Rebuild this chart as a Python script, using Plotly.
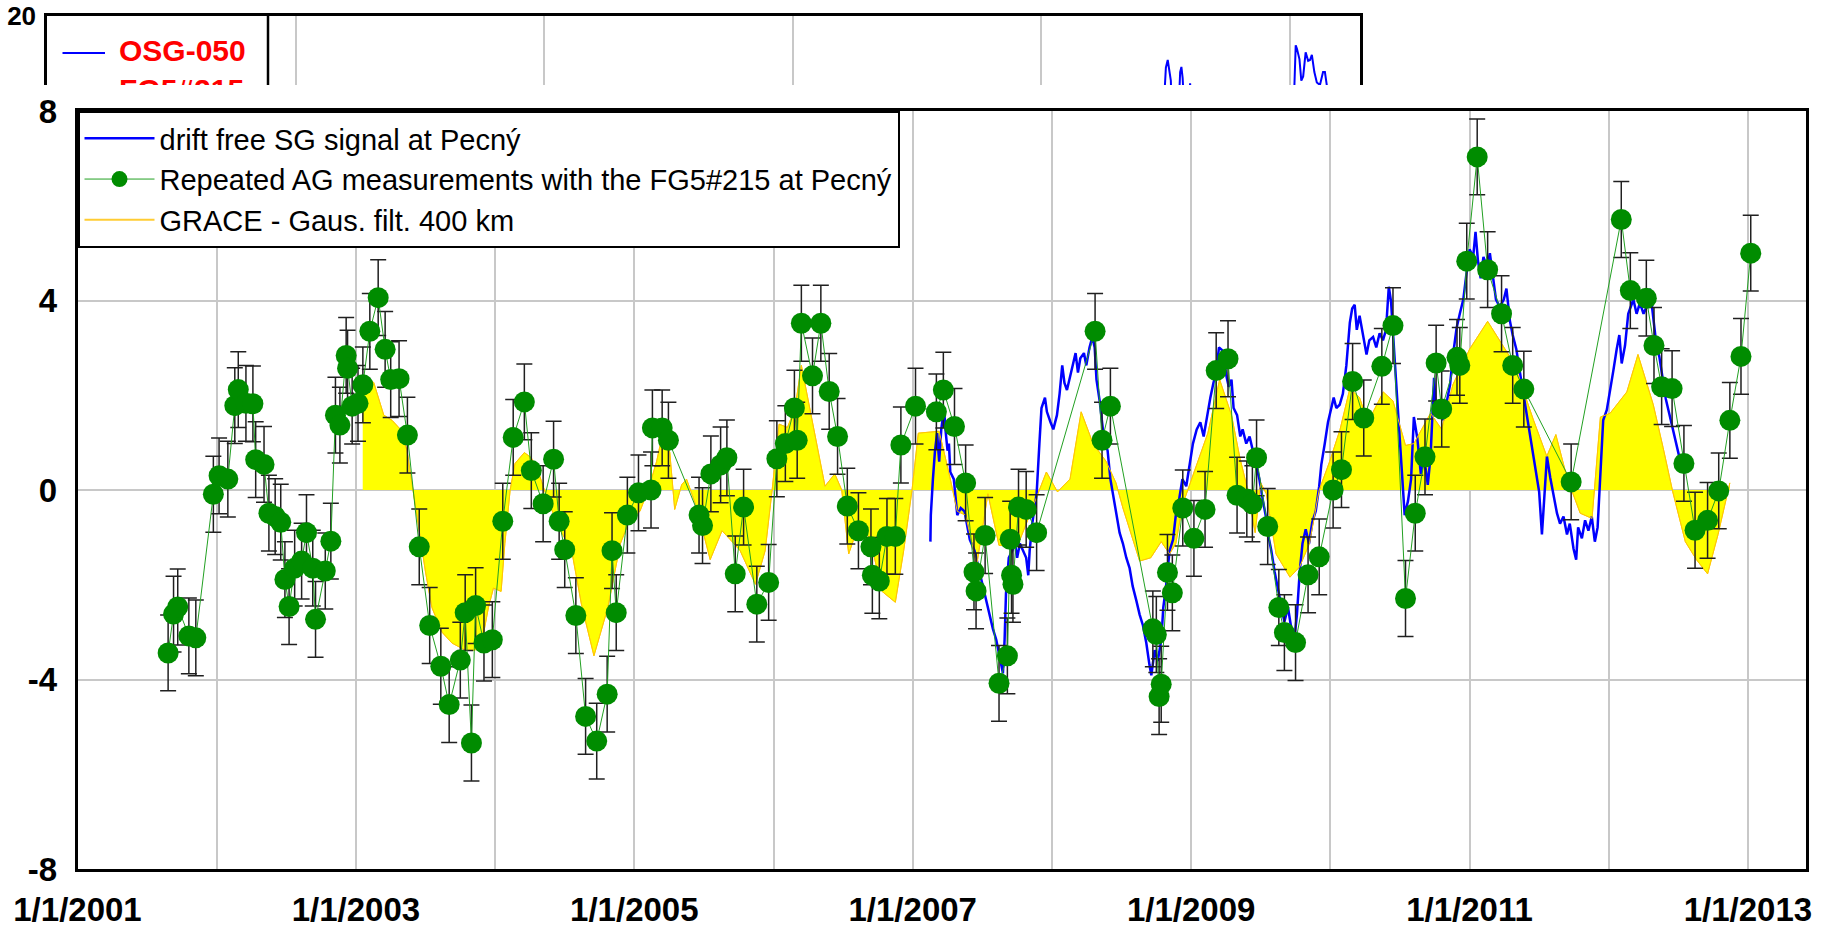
import plotly.graph_objects as go

# ---------------- data (decimal years, µGal) ----------------
ag_year = [2001.651, 2001.69, 2001.72, 2001.80, 2001.85, 2001.976, 2002.017, 2002.08, 2002.13, 2002.155,
           2002.21, 2002.26, 2002.28, 2002.34, 2002.375, 2002.42, 2002.46, 2002.49, 2002.52, 2002.56,
           2002.61, 2002.645, 2002.69, 2002.71, 2002.78, 2002.82, 2002.853, 2002.885, 2002.93, 2002.94,
           2002.973, 2003.015, 2003.05, 2003.10, 2003.16, 2003.21, 2003.25, 2003.31, 2003.37, 2003.455,
           2003.53, 2003.61, 2003.67, 2003.75, 2003.785, 2003.83, 2003.86, 2003.92, 2003.98, 2004.055,
           2004.13, 2004.21, 2004.26, 2004.345, 2004.42, 2004.46, 2004.50, 2004.58, 2004.65, 2004.73,
           2004.805, 2004.84, 2004.87, 2004.95, 2005.03, 2005.12, 2005.13, 2005.20, 2005.245, 2005.465,
           2005.49, 2005.55, 2005.62, 2005.665, 2005.725, 2005.785, 2005.88, 2005.965, 2006.024, 2006.085,
           2006.15, 2006.17, 2006.20, 2006.28, 2006.34, 2006.40, 2006.46, 2006.53, 2006.61, 2006.70,
           2006.71, 2006.76, 2006.815, 2006.875, 2006.915, 2007.02, 2007.17, 2007.22, 2007.30, 2007.38,
           2007.44, 2007.455, 2007.52, 2007.62, 2007.68, 2007.70, 2007.71, 2007.72, 2007.76, 2007.815,
           2007.89, 2008.31, 2008.36, 2008.42, 2008.725, 2008.75, 2008.77, 2008.785, 2008.83, 2008.865,
           2008.94, 2009.02, 2009.10, 2009.18, 2009.265, 2009.33, 2009.40, 2009.44, 2009.47, 2009.55,
           2009.63, 2009.67, 2009.75, 2009.84, 2009.92, 2010.02, 2010.08, 2010.16, 2010.24, 2010.37,
           2010.45, 2010.54, 2010.61, 2010.68, 2010.76, 2010.80, 2010.91, 2010.93, 2010.98, 2011.055,
           2011.13, 2011.23, 2011.31, 2011.39, 2011.73, 2012.09, 2012.155, 2012.27, 2012.325, 2012.38,
           2012.455, 2012.54, 2012.62, 2012.71, 2012.79, 2012.87, 2012.95, 2013.02]
ag_val = [-3.44, -2.62, -2.47, -3.08, -3.12, -0.09, 0.30, 0.23, 1.78, 2.12,
          1.83, 1.82, 0.64, 0.54, -0.49, -0.56, -0.68, -1.89, -2.46, -1.65,
          -1.50, -0.90, -1.65, -2.73, -1.71, -1.08, 1.58, 1.37, 2.84, 2.57,
          1.77, 1.83, 2.22, 3.35, 4.06, 2.97, 2.33, 2.35, 1.16, -1.20,
          -2.86, -3.72, -4.53, -3.59, -2.59, -5.34, -2.44, -3.23, -3.16, -0.66,
          1.11, 1.86, 0.41, -0.29, 0.65, -0.66, -1.26, -2.65, -4.78, -5.30,
          -4.31, -1.28, -2.59, -0.53, -0.06, 0.00, 1.31, 1.31, 1.05, -0.53,
          -0.75, 0.34, 0.53, 0.68, -1.77, -0.36, -2.41, -1.95, 0.66, 0.98,
          1.73, 1.05, 3.52, 2.41, 3.52, 2.08, 1.13, -0.34, -0.86, -1.20,
          -1.80, -1.92, -0.98, -0.98, 0.95, 1.77, 1.65, 2.11, 1.34, 0.15,
          -1.73, -2.13, -0.96, -4.08, -3.50, -1.04, -1.80, -1.99, -0.36, -0.41,
          -0.90, 3.35, 1.05, 1.77, -2.93, -3.05, -4.36, -4.10, -1.74, -2.17,
          -0.38, -1.02, -0.41, 2.52, 2.77, -0.11, -0.19, -0.29, 0.68, -0.77,
          -2.48, -3.01, -3.22, -1.79, -1.41, 0.00, 0.43, 2.29, 1.52, 2.61,
          3.47, -2.29, -0.49, 0.70, 2.68, 1.71, 2.80, 2.63, 4.83, 7.03,
          4.65, 3.72, 2.63, 2.13, 0.17, 5.71, 4.21, 4.05, 3.05, 2.18,
          2.14, 0.56, -0.85, -0.64, -0.02, 1.47, 2.82, 5.00]
ag_err = 0.8

sg_year = [2007.127, 2007.130, 2007.145, 2007.160, 2007.175, 2007.190, 2007.205, 2007.225, 2007.235, 2007.250,
           2007.260, 2007.270, 2007.295, 2007.320, 2007.345, 2007.372, 2007.410, 2007.444, 2007.480, 2007.504,
           2007.530, 2007.550, 2007.576, 2007.600, 2007.624, 2007.648, 2007.660, 2007.670, 2007.690, 2007.715,
           2007.730, 2007.750, 2007.770, 2007.790, 2007.815, 2007.830, 2007.840, 2007.860, 2007.890, 2007.910,
           2007.925, 2007.950, 2007.964, 2007.990, 2008.010, 2008.036, 2008.055, 2008.074, 2008.090, 2008.108,
           2008.127, 2008.150, 2008.170, 2008.187, 2008.204, 2008.230, 2008.247, 2008.270, 2008.290, 2008.307,
           2008.320, 2008.343, 2008.366, 2008.383, 2008.400, 2008.420, 2008.443, 2008.467, 2008.486, 2008.510,
           2008.534, 2008.558, 2008.580, 2008.606, 2008.630, 2008.654, 2008.678, 2008.700, 2008.714, 2008.738,
           2008.760, 2008.786, 2008.800, 2008.820, 2008.845, 2008.870, 2008.890, 2008.912, 2008.937, 2008.965,
           2008.990, 2009.013, 2009.040, 2009.066, 2009.090, 2009.114, 2009.138, 2009.160, 2009.180, 2009.200,
           2009.230, 2009.253, 2009.270, 2009.290, 2009.305, 2009.330, 2009.353, 2009.370, 2009.396, 2009.420,
           2009.444, 2009.468, 2009.490, 2009.516, 2009.535, 2009.550, 2009.576, 2009.600, 2009.624, 2009.648,
           2009.670, 2009.696, 2009.720, 2009.744, 2009.760, 2009.780, 2009.800, 2009.823, 2009.847, 2009.870,
           2009.895, 2009.920, 2009.935, 2009.960, 2009.983, 2010.007, 2010.024, 2010.043, 2010.067, 2010.090,
           2010.115, 2010.140, 2010.157, 2010.175, 2010.190, 2010.210, 2010.235, 2010.260, 2010.280, 2010.307,
           2010.330, 2010.354, 2010.378, 2010.400, 2010.420, 2010.436, 2010.460, 2010.477, 2010.500, 2010.517,
           2010.534, 2010.558, 2010.580, 2010.600, 2010.625, 2010.650, 2010.673, 2010.700, 2010.720, 2010.745,
           2010.760, 2010.790, 2010.810, 2010.835, 2010.860, 2010.880, 2010.907, 2010.930, 2010.955, 2010.980,
           2011.000, 2011.026, 2011.043, 2011.060, 2011.080, 2011.100, 2011.126, 2011.146, 2011.170, 2011.190,
           2011.217, 2011.246, 2011.265, 2011.290, 2011.310, 2011.336, 2011.360, 2011.384, 2011.410, 2011.432,
           2011.456, 2011.480, 2011.500, 2011.520, 2011.537, 2011.556, 2011.580, 2011.600, 2011.628, 2011.650,
           2011.675, 2011.700, 2011.720, 2011.747, 2011.766, 2011.780, 2011.807, 2011.830, 2011.854, 2011.878,
           2011.900, 2011.920, 2011.940, 2011.960, 2011.986, 2012.010, 2012.033, 2012.057, 2012.076, 2012.093,
           2012.117, 2012.140, 2012.157, 2012.177, 2012.200, 2012.224, 2012.250, 2012.272, 2012.296, 2012.315,
           2012.340, 2012.363, 2012.387, 2012.410, 2012.434, 2012.458, 2012.480, 2012.506]
sg_val = [-1.09, -0.53, 0.23, 0.83, 1.20, 0.60, 1.28, 1.73, 1.28, 0.83,
          0.98, 0.38, 0.23, -0.53, -0.38, -0.45, -1.05, -1.28, -1.73, -2.03,
          -2.33, -2.63, -2.93, -3.16, -3.53, -3.87, -3.16, -2.18, -1.43, -1.28,
          -1.05, -1.43, -1.13, -1.28, -1.43, -1.80, -1.28, -0.68, -0.08, 0.98,
          1.73, 1.95, 1.65, 1.43, 1.28, 1.58, 2.03, 2.63, 2.26, 2.11,
          2.33, 2.63, 2.89, 2.48, 2.78, 2.89, 2.63, 3.01, 3.23, 3.01,
          2.33, 1.88, 1.28, 0.98, 0.83, 0.23, -0.15, -0.53, -0.90, -1.13,
          -1.43, -1.65, -2.03, -2.33, -2.63, -2.86, -3.23, -3.68, -3.91, -3.38,
          -3.61, -3.16, -2.48, -2.03, -1.28, -1.05, -0.53, -0.23, 0.23, 0.08,
          0.53, 0.98, 1.28, 1.43, 1.13, 1.58, 1.95, 2.26, 2.48, 3.01,
          2.93, 2.41, 2.18, 2.33, 1.73, 1.58, 1.13, 1.28, 0.98, 1.13,
          0.83, 0.53, 0.23, -0.23, -0.53, -0.90, -1.28, -1.73, -2.11, -2.41,
          -2.78, -2.48, -2.93, -3.08, -2.63, -1.73, -1.13, -0.83, -1.13, -0.68,
          -0.45, 0.08, 0.53, 0.98, 1.43, 1.73, 1.95, 1.73, 1.80, 2.03,
          2.63, 3.53, 3.83, 3.91, 3.38, 3.68, 3.23, 2.86, 3.16, 3.23,
          3.01, 3.31, 3.16, 3.38, 4.29, 3.98, 2.86, 2.11, 0.98, 0.23,
          -0.53, -0.23, 0.23, 1.54, 1.09, 0.34, 0.71, 0.11, 0.71, 2.37,
          1.62, 1.84, 1.47, 1.84, 2.22, 2.82, 3.42, 3.72, 4.02, 4.62,
          5.08, 4.92, 5.45, 4.85, 4.47, 4.92, 4.70, 5.00, 4.47, 4.02,
          3.87, 4.02, 4.25, 3.57, 3.27, 2.97, 2.52, 2.07, 1.62, 1.17,
          0.71, 0.26, -0.04, -0.94, -0.11, 0.71, 0.26, -0.04, -0.49, -0.71,
          -0.56, -0.94, -0.71, -1.24, -1.47, -0.79, -1.02, -0.64, -0.86, -0.56,
          -1.09, -0.79, 0.34, 1.47, 1.69, 2.07, 2.52, 2.97, 3.27, 2.67,
          3.05, 3.72, 3.87, 4.02, 3.72, 3.95, 3.72, 3.87, 4.25, 3.72,
          3.12, 2.82, 2.37, 1.92, 1.62, 1.32, 1.02, 0.71]

grace_year = [2003.049, 2003.128, 2003.20, 2003.26, 2003.32, 2003.367, 2003.41, 2003.45, 2003.50, 2003.546,
              2003.618, 2003.69, 2003.785, 2003.857, 2003.904, 2003.952, 2003.988, 2004.043, 2004.07, 2004.108,
              2004.143, 2004.21, 2004.26, 2004.32, 2004.38, 2004.465, 2004.55, 2004.62, 2004.71, 2004.81,
              2004.90, 2004.96, 2005.04, 2005.10, 2005.16, 2005.21, 2005.255, 2005.29, 2005.34, 2005.375,
              2005.45, 2005.545, 2005.63, 2005.69, 2005.76, 2005.87, 2005.94, 2005.99, 2006.04, 2006.10,
              2006.155, 2006.20, 2006.26, 2006.32, 2006.37, 2006.44, 2006.49, 2006.54, 2006.575, 2006.625,
              2006.695, 2006.78, 2006.875, 2006.935, 2006.995, 2007.04, 2007.19, 2007.27, 2007.32, 2007.38,
              2007.46, 2007.54, 2007.62, 2007.70, 2007.77, 2007.84, 2007.91, 2007.96, 2008.04, 2008.13,
              2008.21, 2008.295, 2008.39, 2008.46, 2008.51, 2008.63, 2008.71, 2008.785, 2008.845, 2008.89,
              2008.94, 2009.01, 2009.12, 2009.205, 2009.29, 2009.35, 2009.40, 2009.46, 2009.50, 2009.54,
              2009.61, 2009.71, 2009.78, 2009.85, 2009.92, 2009.995, 2010.07, 2010.14, 2010.21, 2010.27,
              2010.38, 2010.45, 2010.54, 2010.60, 2010.72, 2010.80, 2010.88, 2011.00, 2011.13, 2011.32,
              2011.46, 2011.555, 2011.62, 2011.70, 2011.795, 2011.88, 2011.94, 2012.01, 2012.13, 2012.21,
              2012.32, 2012.39, 2012.46, 2012.55, 2012.63, 2012.71, 2012.785, 2012.87]
grace_val = [2.35, 2.27, 1.58, 1.47, 1.28, 0.83, 0.0, -0.75, -1.73, -2.48,
             -3.00, -3.23, -3.38, -3.38, -3.23, -2.48, -2.07, -2.14, -1.13, 0.0,
             0.56, 0.79, 0.68, 0.30, -0.23, -0.83, -1.28, -2.41, -3.50, -2.48,
             -1.13, -0.68, -0.45, 0.0, 0.60, 1.28, 0.79, -0.41, 0.11, 0.23,
             -0.38, -1.47, -0.86, -1.05, -1.28, -1.99, -1.28, 0.0, 1.39, 1.32,
             1.73, 2.63, 1.73, 0.90, 0.08, 0.34, 0.0, -1.35, -1.05, -0.71,
             -1.05, -2.14, -2.37, -1.28, 0.0, 1.20, 1.24, 0.23, -0.45, -0.53,
             -1.58, -0.08, -1.17, -1.17, -1.05, -0.53, 0.0, 0.38, -0.04, 0.23,
             1.65, 0.98, 0.60, 0.15, -0.38, -1.50, -1.43, -1.09, -1.35, -1.13,
             -0.30, 0.30, 1.20, 2.33, 1.58, 0.68, 0.08, -0.90, 0.15, -0.08,
             -1.35, -1.84, -1.62, -1.13, 0.0, 0.60, 1.28, 2.14, 1.95, 1.43,
             2.07, 1.88, 0.94, 0.98, 1.62, 1.28, 2.22, 2.97, 3.56, 2.67,
             1.47, 0.71, 1.17, 0.26, -0.49, -0.60, 1.54, 1.62, 2.07, 2.86,
             1.80, 0.90, -0.04, -1.09, -1.47, -1.77, -0.94, 0.15]

# upper (mostly hidden) panel: OSG-050 raw signal peaks visible above the overlay
osg_year = [2009.99, 2010.005, 2010.02, 2010.035, 2010.045, 2010.05, 2010.11, 2010.12, 2010.13, 2010.14,
            2010.15, 2010.19, 2010.20, 2010.21, 2011.035, 2011.05, 2011.06, 2011.08, 2011.095, 2011.11,
            2011.13, 2011.15, 2011.165, 2011.18, 2011.20, 2011.22, 2011.245, 2011.27, 2011.285, 2011.30, 2011.32]
osg_val = [10.0, 14.0, 14.9, 13.5, 12.5, 10.0, 10.0, 13.5, 14.1, 12.8,
           10.0, 10.0, 12.2, 10.0, 10.0, 16.6, 16.2, 15.0, 12.5, 13.0,
           15.8, 14.8, 14.9, 15.5, 13.5, 12.3, 12.0, 13.5, 13.5, 12.0, 10.0]

x_tick_years = list(range(2001, 2014))
x_tick_text = ["1/1/%d" % y if y % 2 == 1 else "" for y in x_tick_years]
y_ticks = [-8, -4, 0, 4, 8]
y_tick_text = ["-8", "-4", "0", "4", "8"]

# ---------------- layout geometry (pixels) ----------------
W, H = 1829, 927
MX0, MX1, MYT, MYB = 77.5, 1806, 111, 869      # main plot box
UX0, UX1, UYT, UYB = 47, 1360, 16, 85          # upper plot box (visible part)
U_XR = [2001, 2001 + (UX1 - UX0) / 124.25]
U_YR = [12, 20]


def ux(px):
    return U_XR[0] + (px - UX0) / (UX1 - UX0) * (U_XR[1] - U_XR[0])


def uy(py):
    return U_YR[1] - (py - UYT) / (UYB - UYT) * (U_YR[1] - U_YR[0])


FONT = "Liberation Sans, Arial, sans-serif"
GREEN = "#008C00"
GRID = "#C8C8C8"

fig = go.Figure()

# GRACE fill
fig.add_trace(go.Scatter(x=grace_year, y=grace_val, mode="lines", fill="tozeroy",
                         fillcolor="#FFFF00", line=dict(color="#FFD21E", width=1),
                         showlegend=False, hoverinfo="skip"))
# SG signal
fig.add_trace(go.Scatter(x=sg_year, y=sg_val, mode="lines", name="drift free SG signal at Pecný",
                         line=dict(color="#0000FF", width=2.5)))
# GRACE outline on top of SG
fig.add_trace(go.Scatter(x=grace_year, y=grace_val, mode="lines",
                         line=dict(color="#FFC800", width=1), showlegend=False, hoverinfo="skip"))
# AG points
fig.add_trace(go.Scatter(x=ag_year, y=ag_val, mode="lines+markers",
                         name="Repeated AG measurements with the FG5#215 at Pecný",
                         line=dict(color="#22A022", width=1),
                         marker=dict(color=GREEN, size=21),
                         error_y=dict(type="constant", value=ag_err, color="#202020",
                                      thickness=1.5, width=8)))
# legend-only entry for GRACE line style
fig.add_trace(go.Scatter(x=[None], y=[None], mode="lines", name="GRACE - Gaus. filt. 400 km",
                         line=dict(color="#FFCC33", width=2)))

# upper panel
fig.add_trace(go.Scatter(x=osg_year, y=osg_val, mode="lines", xaxis="x2", yaxis="y2",
                         line=dict(color="#0000FF", width=2), showlegend=False))
fig.add_trace(go.Scatter(x=[ux(62.5), ux(105)], y=[uy(53), uy(53)], mode="lines",
                         xaxis="x2", yaxis="y2", line=dict(color="#0000FF", width=2),
                         showlegend=False, hoverinfo="skip"))
fig.add_trace(go.Scatter(x=[ux(119), ux(119)], y=[uy(53), uy(92)], mode="text",
                         text=["<b>OSG-050</b>", "<b>FG5#215</b>"], textposition="middle right",
                         textfont=dict(family=FONT, size=30, color="#FF0000"),
                         xaxis="x2", yaxis="y2", showlegend=False, hoverinfo="skip"))

tick_font = dict(family=FONT, size=33, color="black", weight="bold")

fig.update_layout(
    template="none",
    width=W, height=H,
    margin=dict(l=0, r=0, t=0, b=0, autoexpand=False),
    paper_bgcolor="white", plot_bgcolor="white",
    showlegend=True,
    legend=dict(x=MX0 / W, y=1 - MYT / H, xanchor="left", yanchor="top",
                bgcolor="white", bordercolor="black", borderwidth=2,
                font=dict(family=FONT, size=29, color="black"),
                itemwidth=70, tracegroupgap=0),
    xaxis=dict(domain=[MX0 / W, MX1 / W], range=[2001, 2013.417], anchor="y", automargin=False,
               tickmode="array", tickvals=x_tick_years, ticktext=x_tick_text,
               showgrid=True, gridcolor=GRID, gridwidth=1.5, zeroline=False,
               showline=True, linecolor="black", linewidth=2.5, mirror=True,
               ticks="", ticklabelstandoff=10, tickfont=tick_font),
    yaxis=dict(domain=[1 - MYB / H, 1 - MYT / H], range=[-8, 8], anchor="x", automargin=False,
               tickmode="array", tickvals=y_ticks, ticktext=y_tick_text,
               showgrid=True, gridcolor=GRID, gridwidth=1.5, zeroline=False,
               showline=True, linecolor="black", linewidth=2.5, mirror=True,
               ticks="", ticklabelstandoff=11, tickfont=tick_font),
    xaxis2=dict(domain=[UX0 / W, UX1 / W], range=U_XR, anchor="y2", side="top", automargin=False,
                tickmode="array", tickvals=[2003, 2005, 2007, 2009, 2011],
                showticklabels=False, ticks="",
                showgrid=True, gridcolor=GRID, gridwidth=1.5, zeroline=False,
                showline=True, linecolor="black", linewidth=2.5, mirror=False),
    yaxis2=dict(domain=[1 - UYB / H, 1 - UYT / H], range=U_YR, anchor="x2", automargin=False,
                tickmode="array", tickvals=[20], ticktext=["20"], showgrid=False, zeroline=False,
                showline=True, linecolor="black", linewidth=2.5, mirror=True,
                ticks="", ticklabelstandoff=3,
                tickfont=dict(family=FONT, size=26, color="black", weight="bold")),
    shapes=[dict(type="line", xref="paper", yref="paper",
                 x0=268 / W, x1=268 / W, y0=1 - UYT / H, y1=1 - UYB / H,
                 line=dict(color="black", width=2.5))],
)

fig.write_html("out.html")
